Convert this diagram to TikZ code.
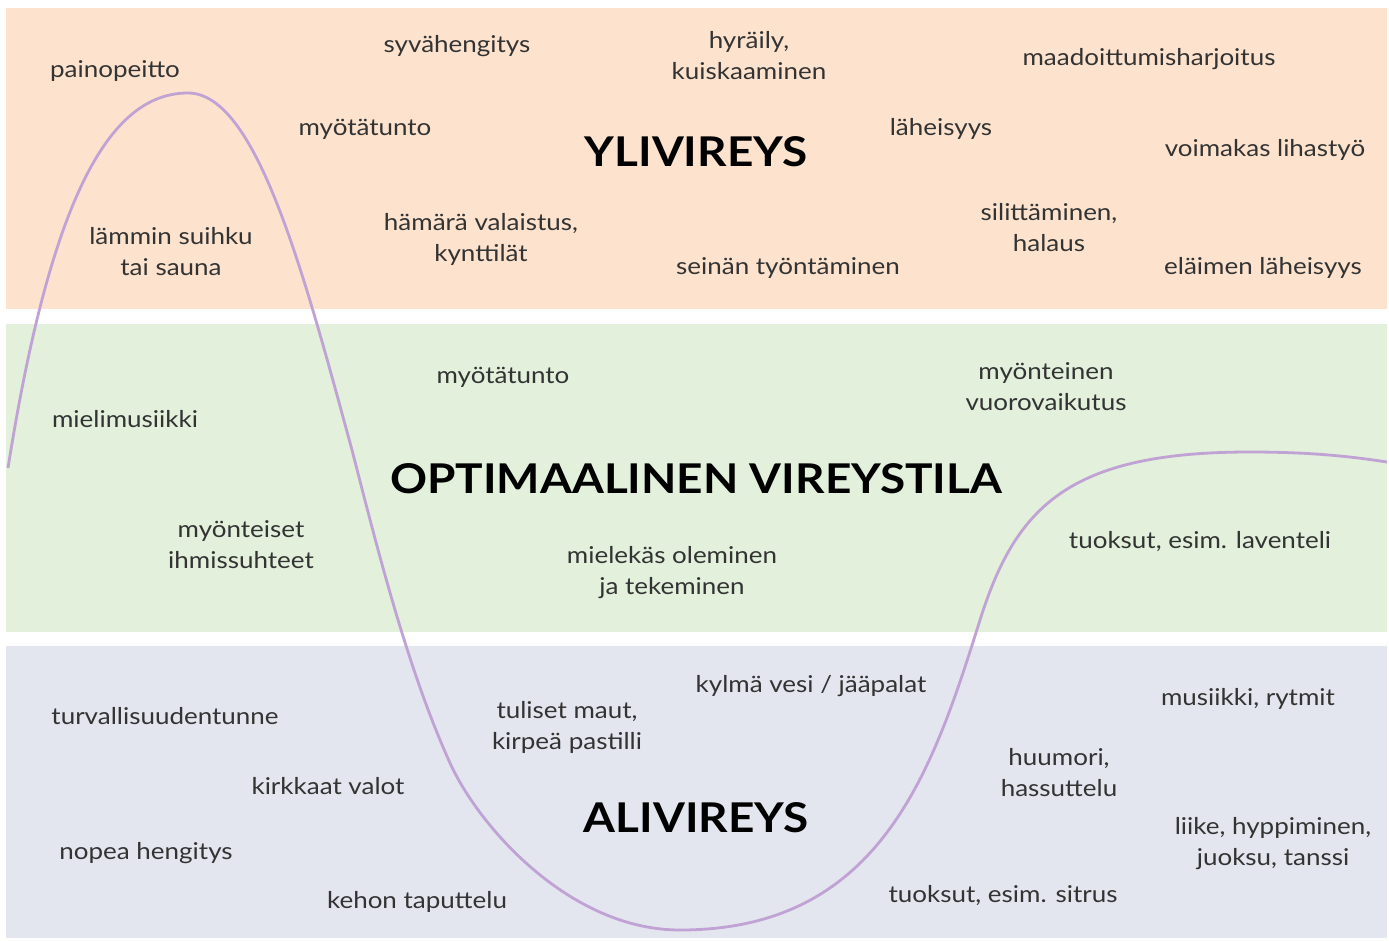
\documentclass[tikz,border=0pt]{standalone}
\usepackage{fontspec}
\setmainfont{Lato}[FakeStretch=1.12]
\definecolor{bandOrange}{HTML}{FDE3CD}
\definecolor{bandGreen}{HTML}{E2F0DC}
\definecolor{bandGray}{HTML}{E3E6EE}
\definecolor{curveCol}{HTML}{C0A2D4}
\definecolor{txtCol}{HTML}{333333}
\begin{document}
\begin{tikzpicture}[x=1pt,y=-1pt,
  lbl/.style={text=txtCol, font=\fontsize{23.2}{31}\selectfont, align=center, inner sep=0pt, yshift=-2pt},
  ttl/.style={text=black, font=\fontsize{41}{48}\selectfont\bfseries, inner sep=0pt},
  band/.style={draw=none},
  curve/.style={draw=curveCol, line width=2.8pt}]
\useasboundingbox (0,0) rectangle (1389,940);
\fill[white] (0,0) rectangle (1389,940);
% bands
\fill[band, bandOrange] (6,8) rectangle (1387,309);
\fill[band, bandGreen] (6,324) rectangle (1387,632);
\fill[band, bandGray] (6,646) rectangle (1387,938);
% curve
\coordinate (c0) at (8,468);
\coordinate (cPeak) at (188,93);
\coordinate (cInf) at (352,450);
\coordinate (cMid) at (450,763);
\coordinate (cLow) at (680,930);
\coordinate (cRise) at (980,620);
\coordinate (cTop) at (1250,452);
\coordinate (cEnd) at (1387,462);
\draw[curve] (c0) .. controls (52,190) and (112,93) .. (cPeak)
  .. controls (256,93) and (303,270) .. (cInf)
  .. controls (377,547) and (407,668) .. (cMid)
  .. controls (479,827) and (570,930) .. (cLow)
  .. controls (880,930) and (932,773) .. (cRise)
  .. controls (1016,505.5) and (1070,452) .. (cTop)
  .. controls (1320,452) and (1360,458) .. (cEnd);
% titles
\node[ttl] (tYli) at (696,152) {YLIVIREYS};
\node[ttl] (tOpt) at (696,479) {OPTIMAALINEN VIREYSTILA};
\node[ttl] (tAli) at (696,818) {ALIVIREYS};
% top band
\node[lbl] (painopeitto) at (115,69) {painopeitto};
\node[lbl] (syva) at (457,44) {syvähengitys};
\node[lbl] (hyraily) at (749,54) {hyräily,\\kuiskaaminen};
\node[lbl] (maadoitt) at (1149,57) {maadoittumisharjoitus};
\node[lbl] (myotaA) at (365,127) {myötätunto};
\node[lbl] (laheis) at (941,127) {läheisyys};
\node[lbl] (voimakas) at (1265,148) {voimakas lihastyö};
\node[lbl] (lammin) at (171,250) {lämmin suihku\\tai sauna};
\node[lbl] (hamara) at (481,237) {hämärä valaistus,\\kynttilät};
\node[lbl] (silitt) at (1049,226) {silittäminen,\\halaus};
\node[lbl] (seinan) at (788,266) {seinän työntäminen};
\node[lbl] (elaimen) at (1263,266) {eläimen läheisyys};
% middle band
\node[lbl] (myotaB) at (503,375) {myötätunto};
\node[lbl] (myonteinen) at (1046,385) {myönteinen\\vuorovaikutus};
\node[lbl] (mielim) at (125,417) {mielimusiikki};
\node[lbl] (myonteiset) at (241,543) {myönteiset\\ihmissuhteet};
\node[lbl] (tuoksuL) at (1200,540) {tuoksut, esim. laventeli};
\node[lbl] (mielekas) at (672,571) {mielekäs oleminen\\ja tekeminen};
% bottom band
\node[lbl] (kylma) at (811,684) {kylmä vesi / jääpalat};
\node[lbl] (musiikki) at (1248,697) {musiikki, rytmit};
\node[lbl] (turval) at (165,714) {turvallisuudentunne};
\node[lbl] (tuliset) at (567,725) {tuliset maut,\\kirpeä pastilli};
\node[lbl] (huumori) at (1059,771) {huumori,\\hassuttelu};
\node[lbl] (kirkkaat) at (328,784) {kirkkaat valot};
\node[lbl] (liike) at (1273,842) {liike, hyppiminen,\\juoksu, tanssi};
\node[lbl] (nopea) at (146,851) {nopea hengitys};
\node[lbl] (kehon) at (417,900) {kehon taputtelu};
\node[lbl] (tuoksuS) at (1003,894) {tuoksut, esim. sitrus};
\end{tikzpicture}
\end{document}
